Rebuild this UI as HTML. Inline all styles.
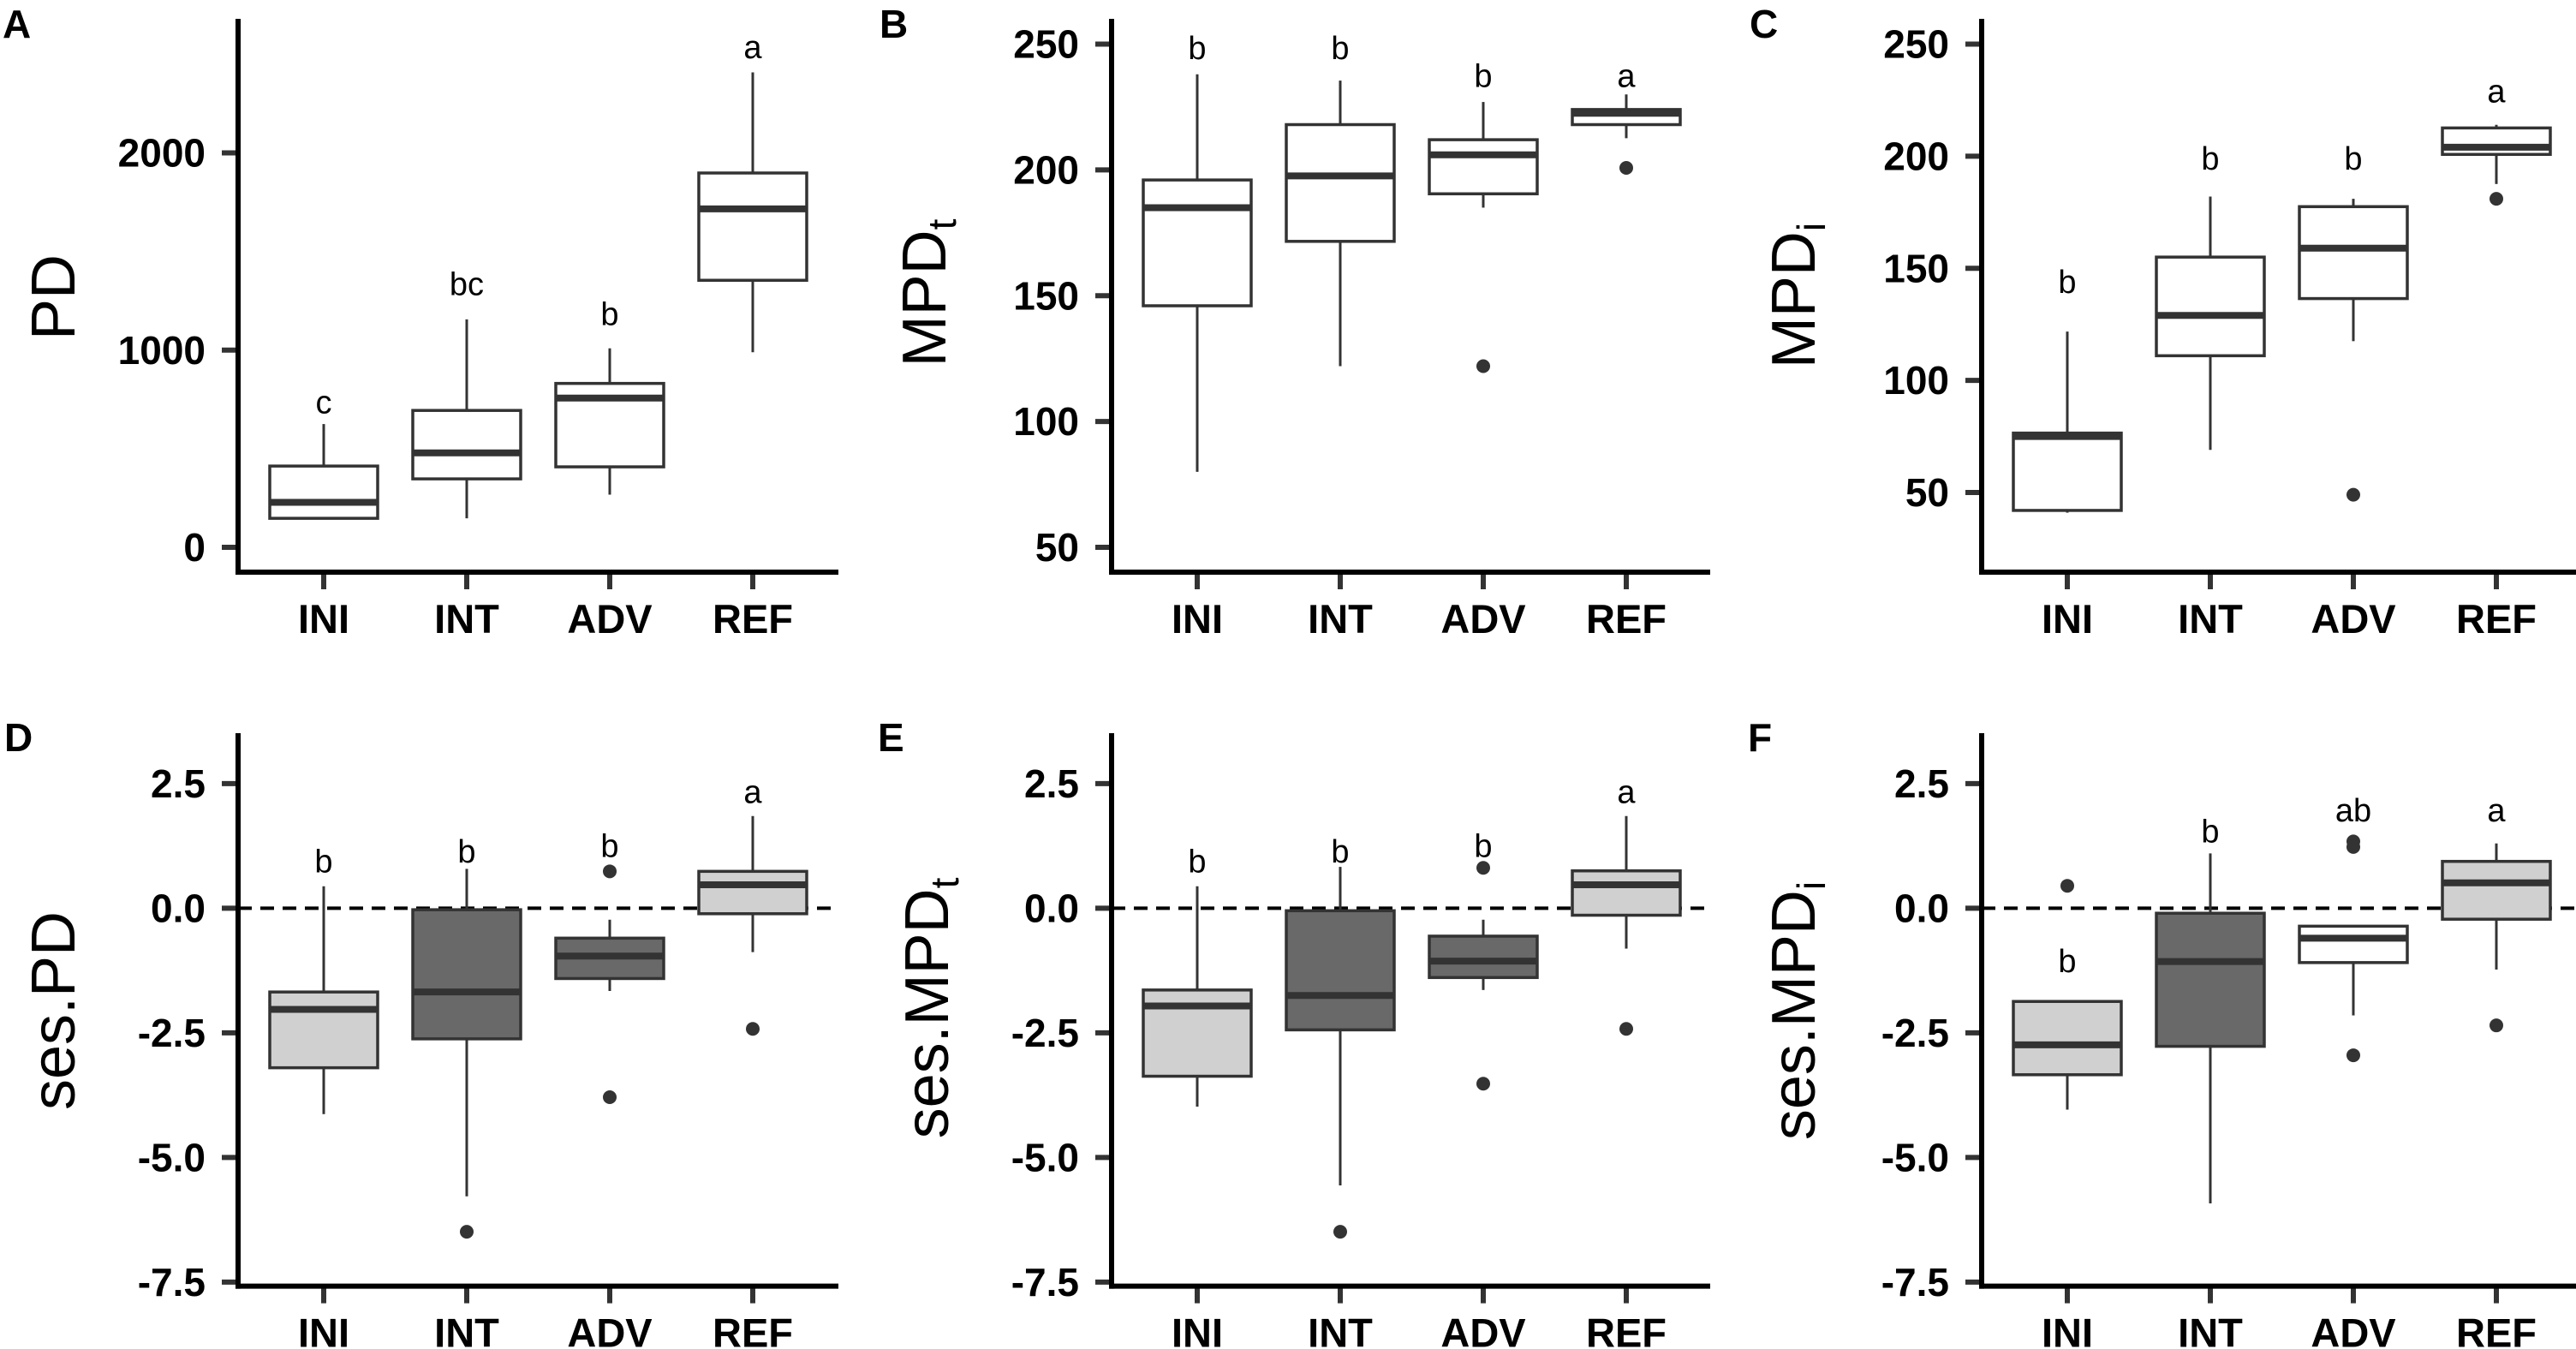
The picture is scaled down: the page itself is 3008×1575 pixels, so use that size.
<!DOCTYPE html>
<html><head><meta charset="utf-8"><style>
html,body{margin:0;padding:0;background:#fff}
svg{display:block}
text{font-family:"Liberation Sans",Arial,sans-serif}
</style></head><body>
<svg id="fig" width="3008" height="1575" viewBox="0 0 3008 1575" xmlns="http://www.w3.org/2000/svg"></svg>
<script>
// ---- data ----
const categories = ["INI","INT","ADV","REF"];
// Panel A: PD
const pdLow  = [147, 147, 267, 989];
const pdQ1   = [147, 347, 408, 1354];
const pdMed  = [228, 479, 757, 1716];
const pdQ3   = [412, 694, 831, 1898];
const pdHigh = [625, 1156, 1009, 2408];
const pdOut  = [[], [], [], []];
const pdLetters = ["c","bc","b","a"];
const pdLetterY = [679, 1280, 1128, 2479];
// Panel B: MPDt
const mtLow  = [80, 122, 185, 212.6];
const mtQ1   = [146, 171.6, 190.5, 218];
const mtMed  = [185, 197.6, 206, 222.5];
const mtQ3   = [196, 218, 212, 224];
const mtHigh = [238, 235.5, 227, 230];
const mtOut  = [[], [], [122], [200.8]];
const mtLetters = ["b","b","b","a"];
const mtLetterY = [244, 244, 233, 233];
// Panel C: MPDi
const miLow  = [41, 69, 117.5, 187.6];
const miQ1   = [42, 111, 136.5, 200.8];
const miMed  = [75, 129, 159, 204];
const miQ3   = [76.5, 155, 177.5, 212.6];
const miHigh = [121.8, 182, 181, 214];
const miOut  = [[], [], [49], [181]];
const miLetters = ["b","b","b","a"];
const miLetterY = [139, 194, 194, 224];
// Panel D: ses.PD
const spLow  = [-4.13, -5.78, -1.66, -0.88];
const spQ1   = [-3.2, -2.62, -1.41, -0.11];
const spMed  = [-2.03, -1.68, -0.96, 0.47];
const spQ3   = [-1.68, -0.03, -0.6, 0.74];
const spHigh = [0.44, 0.79, -0.23, 1.85];
const spOut  = [[], [-6.49], [0.74, -3.79], [-2.42]];
const spLetters = ["b","b","b","a"];
const spLetterY = [0.72, 0.92, 1.03, 2.11];
// Panel E: ses.MPDt
const stLow  = [-3.98, -5.56, -1.64, -0.81];
const stQ1   = [-3.37, -2.44, -1.39, -0.14];
const stMed  = [-1.96, -1.75, -1.06, 0.47];
const stQ3   = [-1.64, -0.05, -0.56, 0.75];
const stHigh = [0.44, 0.83, -0.23, 1.85];
const stOut  = [[], [-6.49], [0.81, -3.52], [-2.42]];
const stLetters = ["b","b","b","a"];
const stLetterY = [0.72, 0.92, 1.03, 2.11];
// Panel F: ses.MPDi
const siLow  = [-4.04, -5.92, -2.15, -1.23];
const siQ1   = [-3.34, -2.77, -1.09, -0.22];
const siMed  = [-2.74, -1.07, -0.6, 0.51];
const siQ3   = [-1.87, -0.10, -0.36, 0.94];
const siHigh = [-1.87, 1.10, -0.36, 1.30];
const siOut  = [[0.45], [], [1.34, 1.23, -2.95], [-2.35]];
const siLetters = ["b","b","ab","a"];
const siLetterY = [-1.28, 1.32, 1.74, 1.74];
// tick labels
const ticksPD = [0, 1000, 2000];
const ticksMPD = [50, 100, 150, 200, 250];
const ticksSes = [-7.5, -5.0, -2.5, 0.0, 2.5];
const sesTickText = ["-7.5","-5.0","-2.5","0.0","2.5"];

const NS = "http://www.w3.org/2000/svg";
const svg = document.getElementById("fig");
function mk(tag, attrs, parent){
  const e = document.createElementNS(NS, tag);
  for (const k in attrs) e.setAttribute(k, attrs[k]);
  (parent||svg).appendChild(e);
  return e;
}
const LIGHT="#d0d0d0", DARK="#696969", WHITE="#ffffff";

function panel(p){
  const g = mk("g", {});
  
  
  const y = v => p.y0 + (v - p.v0) * (p.y1 - p.y0) / (p.v1 - p.v0);
  const xc = [p.ax + 100, p.ax + 267, p.ax + 434, p.ax + 601];
  const bw = 126;
  // panel label
  const pl = mk("text", {x:p.lx, y:p.ly, "font-size":46, "font-weight":"bold", fill:"#000"}, g);
  pl.textContent = p.label;
  
  
  // y title
  const yt = mk("text", {transform:`translate(${p.tx},${p.ty}) rotate(-90)`, "text-anchor":"middle", "font-size":72, fill:"#000"}, g);
  
  
  const t1 = mk("tspan", {}, yt); t1.textContent = p.title;
  if (p.sub){ const t2 = mk("tspan", {"font-size":46, dy:12}, yt); t2.textContent = p.sub; }
  // zero dashed line
  if (p.zero){
    const zl = mk("line", {x1:p.ax, x2:p.xend, y1:y(0), y2:y(0), stroke:"#000", "stroke-width":4, "stroke-dasharray":"16 10"}, g);
    
    
  }
  // ticks
  p.ticks.forEach((tv, i) => {
    const tk = mk("line", {x1:p.ax-19, x2:p.ax, y1:y(tv), y2:y(tv), stroke:"#333", "stroke-width":6}, g);
    
    
    const tl = mk("text", {x:p.ax-38, y:y(tv)+16, "text-anchor":"end", "font-size":46, "font-weight":"bold", fill:"#000"}, g);
    tl.textContent = p.tickText ? p.tickText[i] : String(tv);
    
    
  });
  // boxes
  categories.forEach((c, i) => {
    const bg = mk("g", {}, g);
    
    
    const w1 = mk("line", {x1:xc[i], x2:xc[i], y1:y(p.high[i]), y2:y(p.q3[i]), stroke:"#333", "stroke-width":3}, bg);
    
    
    const w2 = mk("line", {x1:xc[i], x2:xc[i], y1:y(p.q1[i]), y2:y(p.low[i]), stroke:"#333", "stroke-width":3}, bg);
    
    
    const top = Math.min(y(p.q3[i]), y(p.q1[i])), h = Math.abs(y(p.q1[i]) - y(p.q3[i]));
    const r = mk("rect", {x:xc[i]-bw/2, y:top, width:bw, height:Math.max(h,1), fill:p.fills[i], stroke:"#333", "stroke-width":3.5}, bg);
    
    
    const m = mk("line", {x1:xc[i]-bw/2, x2:xc[i]+bw/2, y1:y(p.med[i]), y2:y(p.med[i]), stroke:"#333", "stroke-width":8}, bg);
    
    
    p.out[i].forEach(o => {
      const d = mk("circle", {cx:xc[i], cy:y(o), r:8, fill:"#333"}, bg);
      
      
    });
    const lt = mk("text", {x:xc[i], y:y(p.letY[i]), "text-anchor":"middle", "font-size":38, fill:"#000"}, bg);
    lt.textContent = p.letters[i];
    
    
    // x tick + label
    const xt = mk("line", {x1:xc[i], x2:xc[i], y1:p.xaxisY, y2:p.xaxisY+20, stroke:"#333", "stroke-width":6}, g);
    
    
    const xl = mk("text", {x:xc[i], y:p.xaxisY+71, "text-anchor":"middle", "font-size":47, "font-weight":"bold", fill:"#000"}, g);
    xl.textContent = c;
    
    
  });
  // axes
  const ya = mk("line", {x1:p.ax, x2:p.ax, y1:p.axTop, y2:p.xaxisY+3, stroke:"#000", "stroke-width":6}, g);
  
  
  const xa = mk("line", {x1:p.ax-3, x2:p.xend, y1:p.xaxisY, y2:p.xaxisY, stroke:"#000", "stroke-width":6}, g);
  
  
}

const W3 = [WHITE,WHITE,WHITE,WHITE];
panel({label:"A", lx:3, ly:44, title:"PD", sub:"", tx:87, ty:347, ax:278, axTop:22, xaxisY:668, xend:979,
  v0:0, y0:639, v1:2000, y1:178.5, ticks:ticksPD, fills:W3,
  low:pdLow,q1:pdQ1,med:pdMed,q3:pdQ3,high:pdHigh,out:pdOut,letters:pdLetters,letY:pdLetterY});
panel({label:"B", lx:1027, ly:44, title:"MPD", sub:"t", tx:1104, ty:342, ax:1298, axTop:22, xaxisY:668, xend:1997,
  v0:50, y0:639, v1:250, y1:51.5, ticks:ticksMPD, fills:W3,
  low:mtLow,q1:mtQ1,med:mtMed,q3:mtQ3,high:mtHigh,out:mtOut,letters:mtLetters,letY:mtLetterY});
panel({label:"C", lx:2043, ly:44, title:"MPD", sub:"i", tx:2119, ty:345, ax:2314, axTop:22, xaxisY:668, xend:3008,
  v0:50, y0:575, v1:250, y1:51.5, ticks:ticksMPD, fills:W3,
  low:miLow,q1:miQ1,med:miMed,q3:miQ3,high:miHigh,out:miOut,letters:miLetters,letY:miLetterY});
panel({label:"D", lx:5, ly:877, title:"ses.PD", sub:"", tx:87, ty:1180, ax:278, axTop:856, xaxisY:1501.6, xend:979, zero:true,
  v0:0, y0:1060.4, v1:2.5, y1:914.9, ticks:ticksSes, tickText:sesTickText, fills:[LIGHT,DARK,DARK,LIGHT],
  low:spLow,q1:spQ1,med:spMed,q3:spQ3,high:spHigh,out:spOut,letters:spLetters,letY:spLetterY});
panel({label:"E", lx:1025, ly:877, title:"ses.MPD", sub:"t", tx:1107, ty:1177, ax:1298, axTop:856, xaxisY:1501.6, xend:1997, zero:true,
  v0:0, y0:1060.4, v1:2.5, y1:914.9, ticks:ticksSes, tickText:sesTickText, fills:[LIGHT,DARK,DARK,LIGHT],
  low:stLow,q1:stQ1,med:stMed,q3:stQ3,high:stHigh,out:stOut,letters:stLetters,letY:stLetterY});
panel({label:"F", lx:2041, ly:877, title:"ses.MPD", sub:"i", tx:2119, ty:1180, ax:2314, axTop:856, xaxisY:1501.6, xend:3008, zero:true,
  v0:0, y0:1060.4, v1:2.5, y1:914.9, ticks:ticksSes, tickText:sesTickText, fills:[LIGHT,DARK,WHITE,LIGHT],
  low:siLow,q1:siQ1,med:siMed,q3:siQ3,high:siHigh,out:siOut,letters:siLetters,letY:siLetterY});
</script>
</body></html>
